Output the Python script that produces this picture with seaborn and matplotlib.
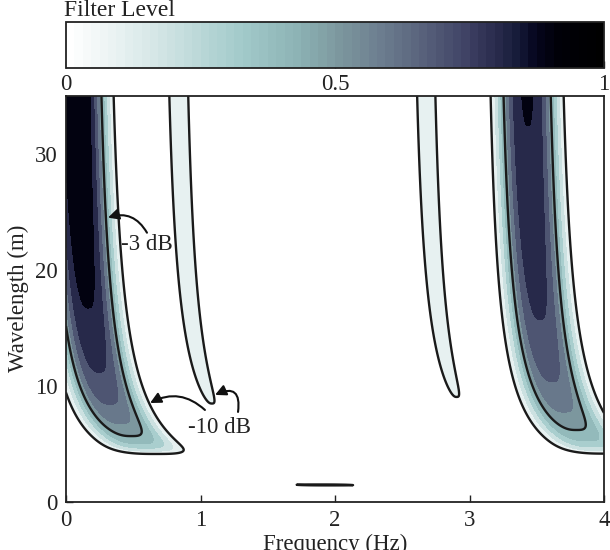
import numpy as np
import matplotlib
matplotlib.use("Agg")
import matplotlib.pyplot as plt
from matplotlib.colors import LinearSegmentedColormap, ListedColormap, Normalize
from matplotlib import cm
import seaborn as sns

# ---- axes ----
freq_lim = [0.0, 4.0]
wl_lim = [0.0, 35.0]
freq_ticks = [0, 1, 2, 3, 4]
wl_ticks = [0, 10, 20, 30]

# ---- pass bands: long-wave centre (Hz), peak level, half-width (Hz) ----
band_center = [0.00, 0.76, 2.60, 3.35]
band_peak = [1.02, 0.145, 0.14, 0.92]
band_width = [0.20, 0.095, 0.095, 0.20]
band_drift = 2.75     # Hz*m : centre shift with 1/wavelength
band_spread = 1.5     # m    : widening of the bands at short wavelength
band_order = 3.0

# ---- wavelength response ----
wl_gain_offset = 1.08
wl_gain_slope = 3.3
wl_cut_k = 0.236      # 1/m
wl_cut_soft = 0.013   # 1/m
wl_lobe = [1.43, 0.11, 0.12]   # centre (m), height, width (m)

# ---- levels ----
fill_levels = [0.1, 0.2, 0.3, 0.4, 0.5, 0.6, 0.7, 0.8, 0.9]
line_levels = [0.1, 0.5]
cbar_ticks = [0, 0.5, 1]
cbar_ticklabels = ["0", "0.5", "1"]

# ---- colour map ----
cmap_pos = [0.0, 0.15, 0.32, 0.43, 0.50, 0.58, 0.66, 0.75, 0.81, 0.85, 0.88, 0.92, 1.0]
cmap_hex = ["#ffffff", "#d8e8e8", "#a3cbcb", "#8cb2b4", "#7e9aa0", "#6e8091",
            "#5a647d", "#3e4164", "#282a4b", "#141937", "#05051e", "#000008", "#000000"]

sns.set_theme(style="ticks")
plt.rcParams["font.family"] = ["Liberation Serif", "DejaVu Serif"]
FS = 16.5

base = LinearSegmentedColormap.from_list("filter", list(zip(cmap_pos, cmap_hex)))
cmap64 = ListedColormap(base(np.linspace(0, 1, 64)))

# ---- response surface ----
freq = np.linspace(freq_lim[0], freq_lim[1], 801)
wl = np.linspace(0.05, wl_lim[1], 2100)
F, W = np.meshgrid(freq, wl)
K = 1.0 / W

gain = np.clip(wl_gain_offset - wl_gain_slope * K, 0, None)
gain *= 0.5 * (1 + np.tanh((wl_cut_k - K) / (2 * wl_cut_soft)))
gain += wl_lobe[1] * np.exp(-((W - wl_lobe[0]) / wl_lobe[2]) ** 2)

Z = np.zeros_like(F)
for c, p, w in zip(band_center, band_peak, band_width):
    x = (F - c - band_drift * K) / (w * (1 + band_spread / W))
    Z += p * np.exp(-np.abs(x) ** band_order)
Z *= gain

# ---- figure ----
fig = plt.figure(figsize=(6.1, 5.5), dpi=100)
ax = fig.add_axes([66 / 610, 1 - 501.5 / 550, 538 / 610, 405.5 / 550])
cax = fig.add_axes([66 / 610, 1 - 68 / 550, 538 / 610, 46.3 / 550])

fill_colors = [cmap64(v) for v in fill_levels]
ax.contourf(F, W, Z, levels=fill_levels + [max(Z.max(), 1.0) + 1], colors=fill_colors)
ax.contour(F, W, Z, levels=line_levels, colors="k", linewidths=1.7)

ax.set_xlim(freq_lim)
ax.set_ylim(wl_lim)
ax.set_xticks(freq_ticks)
ax.set_yticks(wl_ticks)
ax.tick_params(direction="in", length=5, width=1.0, labelsize=FS, pad=6,
               colors="#222222", labelcolor="#222222")
for s in ax.spines.values():
    s.set_linewidth(1.3)
    s.set_color("#222222")
ax.set_xlabel("Frequency (Hz)", fontsize=FS, color="#222222", labelpad=2)
ax.set_ylabel("Wavelength (m)", fontsize=FS, color="#222222", labelpad=4)

# ---- contour labels ----
arrow_kw = dict(arrowstyle="-|>", color="#111111", lw=1.5, mutation_scale=16,
                shrinkA=0, shrinkB=0)
ax.text(0.602, 22.15, "-3 dB", fontsize=FS, ha="center", va="center", color="#222222")
ax.annotate("", xy=(0.312, 24.5), xytext=(0.602, 23.2),
            arrowprops=dict(connectionstyle="arc3,rad=0.4", **arrow_kw))
ax.text(1.138, 6.43, "-10 dB", fontsize=FS, ha="center", va="center", color="#222222")
ax.annotate("", xy=(0.625, 8.5), xytext=(1.033, 7.9),
            arrowprops=dict(connectionstyle="arc3,rad=0.35", **arrow_kw))
ax.annotate("", xy=(1.108, 9.2), xytext=(1.279, 7.73),
            arrowprops=dict(connectionstyle="arc3,rad=0.9", **arrow_kw))

# ---- colour bar ----
cb = fig.colorbar(cm.ScalarMappable(norm=Normalize(0, 1), cmap=cmap64), cax=cax,
                  orientation="horizontal", ticks=cbar_ticks)
cb.set_ticklabels(cbar_ticklabels)
cb.ax.tick_params(direction="in", length=5, width=1.0, labelsize=FS, pad=4,
                  colors="#222222", labelcolor="#222222")
cb.outline.set_linewidth(1.3)
cb.outline.set_edgecolor("#222222")
fig.text(64 / 610, 1 - 16.5 / 550, "Filter Level", fontsize=17, ha="left",
         va="baseline", color="#222222")

fig.savefig("out.png", dpi=100)
